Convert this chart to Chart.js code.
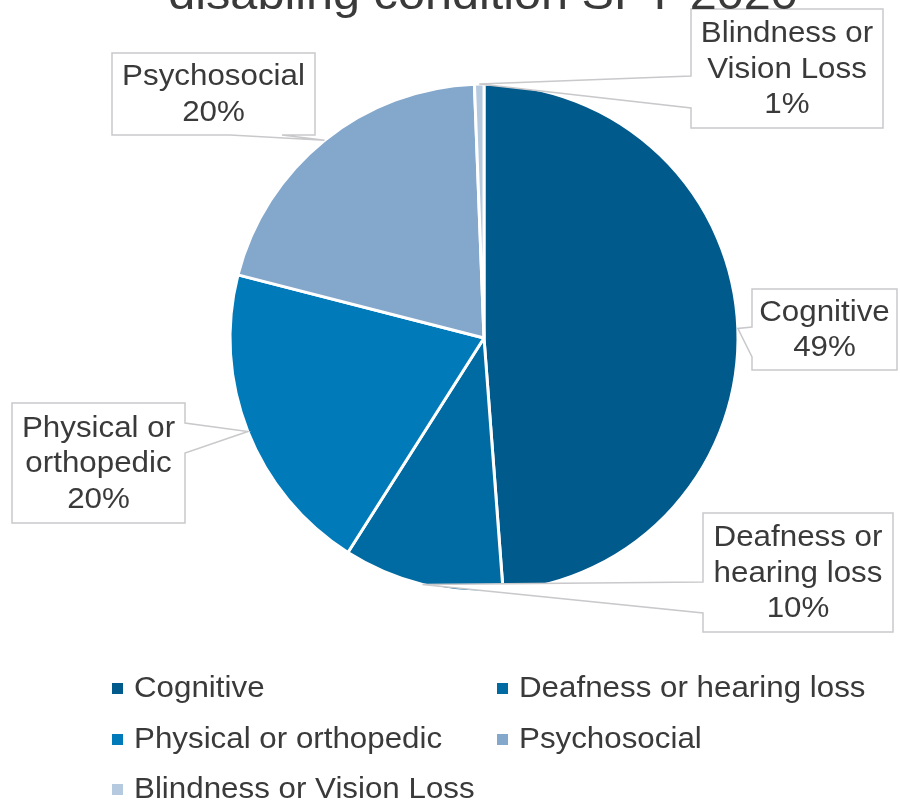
<!DOCTYPE html>
<html>
<head>
<meta charset="utf-8">
<script src="https://cdn.jsdelivr.net/npm/chart.js@4/dist/chart.umd.min.js"></script>
<style>
  html, body { margin: 0; padding: 0; background: #fff; }
  #wrap { width: 900px; height: 805px; }
</style>
</head>
<body>
<div id="wrap"><canvas id="myChart" width="900" height="805"></canvas></div>
<script>
'use strict'

// data (shares of total, percent)
const categories = [
  'Cognitive',
  'Deafness or hearing loss',
  'Physical or orthopedic',
  'Psychosocial',
  'Blindness or Vision Loss'
];
const shares = [48.8, 10.2, 20.0, 20.4, 0.6];
// label text as it is wrapped in the callouts
const calloutLines = [
  ['Cognitive'],
  ['Deafness or', 'hearing loss'],
  ['Physical or', 'orthopedic'],
  ['Psychosocial'],
  ['Blindness or', 'Vision Loss']
];
const colors = ['#005a8c', '#006ba3', '#007ab9', '#84a7cc', '#b5c9df'];
const titleText = 'disabling condition SFY 2020';

const FONT = '"Liberation Sans", Arial, sans-serif';
const TEXT = '#3a3a3a';
const SX = 1.08; // the original text is a little wider than Arial

// callout boxes: x, y, w, h, side the wedge leaves from, and wedge base (a..b)
const boxes = [
  {x: 752, y: 289, w: 145, h: 81, side: 'left', a: 327, b: 357},
  {x: 703, y: 513, w: 190, h: 119, side: 'left', a: 582, b: 613},
  {x: 12, y: 403, w: 173, h: 120, side: 'right', a: 423, b: 453},
  {x: 112, y: 53, w: 203, h: 82, side: 'bottom', a: 230, b: 282},
  {x: 691, y: 9, w: 192, h: 119, side: 'left', a: 76, b: 108}
];

function wideText(ctx, t, x, y) {
  ctx.save();
  ctx.translate(x, y);
  ctx.scale(SX, 1);
  ctx.fillText(t, 0, 0);
  ctx.restore();
}

const calloutPlugin = {
  id: 'callouts',
  afterDatasetsDraw(chart) {
    const ctx = chart.ctx;
    const arcs = chart.getDatasetMeta(0).data;
    const vals = chart.data.datasets[0].data;
    const total = vals.reduce((s, v) => s + v, 0);
    arcs.forEach((arc, i) => {
      const p = arc.getProps(['x', 'y', 'startAngle', 'endAngle', 'outerRadius'], true);
      const mid = (p.startAngle + p.endAngle) / 2;
      const tx = p.x + p.outerRadius * Math.cos(mid);
      const ty = p.y + p.outerRadius * Math.sin(mid);
      const b = boxes[i];
      const r = b.x + b.w, btm = b.y + b.h;
      ctx.save();
      ctx.beginPath();
      if (b.side === 'left') {
        ctx.moveTo(b.x, b.y); ctx.lineTo(r, b.y); ctx.lineTo(r, btm); ctx.lineTo(b.x, btm);
        ctx.lineTo(b.x, b.b); ctx.lineTo(tx, ty); ctx.lineTo(b.x, b.a);
      } else if (b.side === 'right') {
        ctx.moveTo(b.x, b.y); ctx.lineTo(r, b.y); ctx.lineTo(r, b.a); ctx.lineTo(tx, ty);
        ctx.lineTo(r, b.b); ctx.lineTo(r, btm); ctx.lineTo(b.x, btm);
      } else {
        ctx.moveTo(b.x, b.y); ctx.lineTo(r, b.y); ctx.lineTo(r, btm); ctx.lineTo(b.b, btm);
        ctx.lineTo(tx, ty); ctx.lineTo(b.a, btm); ctx.lineTo(b.x, btm);
      }
      ctx.closePath();
      ctx.fillStyle = '#ffffff';
      ctx.fill();
      ctx.strokeStyle = '#c9c9cc';
      ctx.lineWidth = 1.5;
      ctx.stroke();

      const lines = calloutLines[i].concat([Math.round(vals[i] / total * 100) + '%']);
      ctx.fillStyle = TEXT;
      ctx.font = '29px ' + FONT;
      ctx.textAlign = 'center';
      ctx.textBaseline = 'middle';
      const lh = 35.5;
      const cy = b.y + b.h / 2 - (lines.length - 1) * lh / 2 + 1;
      lines.forEach((t, k) => wideText(ctx, t, b.x + b.w / 2, cy + k * lh));
      ctx.restore();
    });
  },
  afterDraw(chart) {
    const ctx = chart.ctx;
    ctx.save();
    // title, cut off at the top like the original
    ctx.fillStyle = TEXT;
    ctx.font = '45px ' + FONT;
    ctx.textAlign = 'center';
    ctx.textBaseline = 'alphabetic';
    wideText(ctx, titleText, 483, 9);

    // legend, two columns
    ctx.font = '29px ' + FONT;
    ctx.textAlign = 'left';
    ctx.textBaseline = 'middle';
    const colX = [112, 497];
    const rowY = [688, 739, 789];
    chart.data.labels.forEach((lab, i) => {
      const x = colX[i % 2], y = rowY[Math.floor(i / 2)];
      ctx.fillStyle = chart.data.datasets[0].backgroundColor[i];
      ctx.fillRect(x, y - 5, 11, 11);
      ctx.fillStyle = TEXT;
      wideText(ctx, lab, x + 22, y + 1);
    });
    ctx.restore();
  }
};

const data = {
  labels: categories,
  datasets: [{
    data: shares,
    backgroundColor: colors,
    borderColor: '#ffffff',
    borderWidth: 3
  }]
};

const config = {
  type: 'pie',
  data: data,
  options: {
    responsive: false,
    animation: false,
    radius: 254,
    layout: { padding: { left: 68, right: 0, top: 0, bottom: 129 } },
    plugins: {
      legend: { display: false },
      title: { display: false },
      tooltip: { enabled: false }
    }
  },
  plugins: [calloutPlugin]
};

const myChart = new Chart(document.getElementById('myChart'), config);
</script>
</body>
</html>
